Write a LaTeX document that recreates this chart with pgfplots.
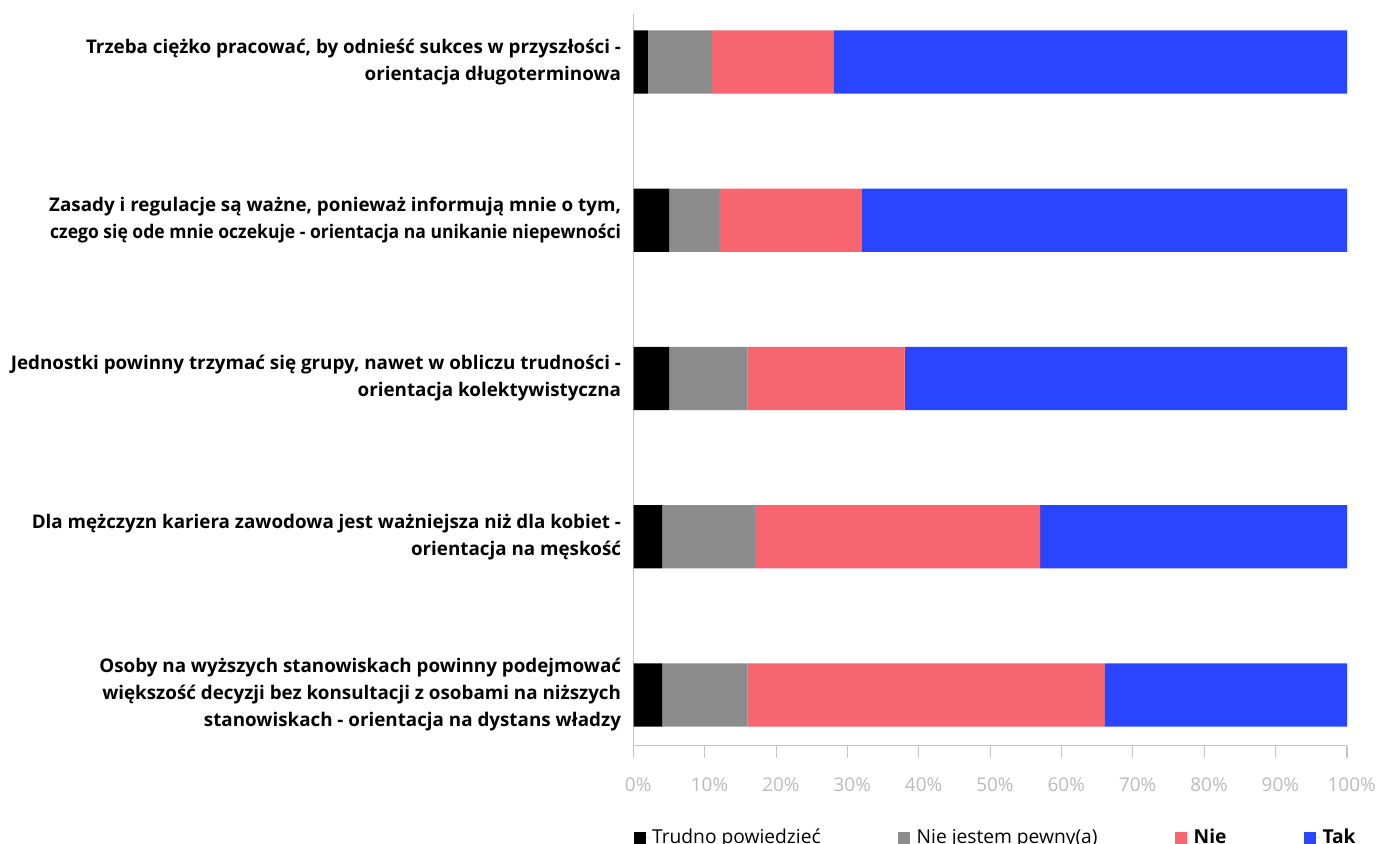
\documentclass[border=0pt]{standalone}
\usepackage{fontspec}
\setmainfont{Open Sans}
\usepackage{graphicx}
\usepackage{pgfplots}
\pgfplotsset{compat=1.18}
\definecolor{cblack}{HTML}{000000}
\definecolor{cgray}{HTML}{8C8C8C}
\definecolor{cpink}{HTML}{F76571}
\definecolor{cblue}{HTML}{2A45FF}
\definecolor{axgray}{HTML}{C4C4C4}
\definecolor{tickgray}{HTML}{BBBBBB}
\begin{document}
\begin{tikzpicture}
\begin{axis}[
  at={(475.125pt,73.125pt)}, anchor=south west,
  scale only axis,
  width=535.125pt, height=548.625pt,
  xbar stacked,
  bar width=0.4,
  xmin=0, xmax=100,
  ymin=-0.304, ymax=4.32,
  y dir=reverse,
  axis x line*=bottom,
  axis y line*=left,
  axis line style={draw=axgray, line width=0.8pt, -},
  xtick={0,10,...,100},
  xticklabels={0\%,10\%,20\%,30\%,40\%,50\%,60\%,70\%,80\%,90\%,100\%},
  x tick style={draw=axgray, line width=0.8pt},
  tick align=outside,
  major tick length=9pt,
  xticklabel style={font=\fontsize{14.2}{16}\selectfont, text=tickgray, xshift=3.5pt, yshift=-12pt},
  ytick={0,1,2,3,4},
  y tick style={draw=none},
  yticklabels={
    {Trzeba ciężko pracować, by odnieść sukces w przyszłości -\\orientacja długoterminowa},
    {Zasady i regulacje są ważne, ponieważ informują mnie o tym,\\\scalebox{0.933}[1]{czego się ode mnie oczekuje - orientacja na unikanie niepewności}},
    {Jednostki powinny trzymać się grupy, nawet w obliczu trudności -\\orientacja kolektywistyczna},
    {Dla mężczyzn kariera zawodowa jest ważniejsza niż dla kobiet -\\orientacja na męskość},
    {Osoby na wyższych stanowiskach powinny podejmować\\większość decyzji bez konsultacji z osobami na niższych\\stanowiskach - orientacja na dystans władzy}
  },
  yticklabel style={font=\fontsize{14.1}{20.25}\selectfont\bfseries, align=right, text=black, xshift=3.2pt},
  legend columns=4,
  legend style={
    draw=none, fill=none,
    at={(0.0,-0.1105)}, anchor=north west,
    font=\fontsize{14.4}{17}\selectfont,
    inner sep=0pt,
    /tikz/every even column/.append style={column sep=56.25pt},
  },
  legend image code/.code={\fill[#1] (0pt,-4.4pt) rectangle (8.8pt,4.4pt); \path (0pt,0pt) -- (11.8pt,0pt);},
  every axis plot/.append style={draw=none},
]
\addplot[fill=cblack] coordinates {(2,0) (5,1) (5,2) (4,3) (4,4)};
\addplot[fill=cgray] coordinates {(9,0) (7,1) (11,2) (13,3) (12,4)};
\addplot[fill=cpink] coordinates {(17,0) (20,1) (22,2) (40,3) (50,4)};
\addplot[fill=cblue] coordinates {(72,0) (68,1) (62,2) (43,3) (34,4)};
\legend{Trudno powiedzieć, Nie jestem pewny(a), \textbf{Nie}, \textbf{Tak}}
\end{axis}
\pgfresetboundingbox
\useasboundingbox (0,0) rectangle (1032.75pt,632.25pt);
\end{tikzpicture}
\end{document}
